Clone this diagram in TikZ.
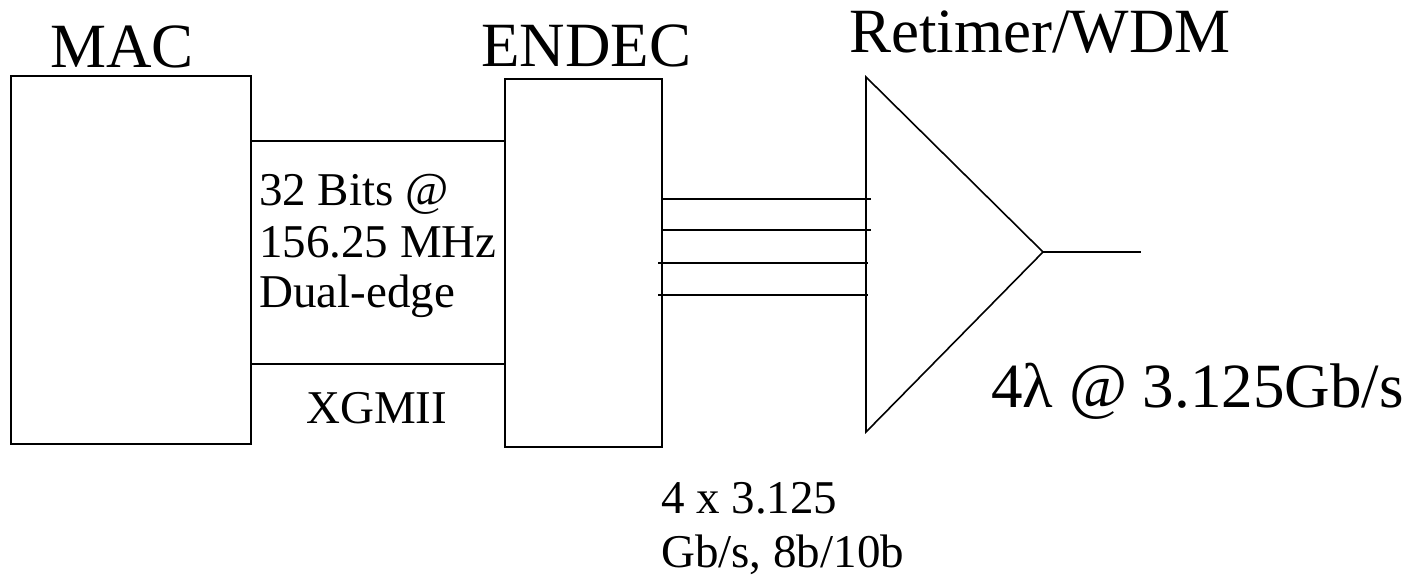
\documentclass[tikz,border=0pt]{standalone}
\usepackage{fontspec}
\setmainfont{Liberation Serif}
\tikzset{
  blk/.style={draw=black, line width=1.6pt, inner sep=0pt, outer sep=0pt},
  wire/.style={draw=black, line width=1.8pt},
  big/.style={font=\fontsize{63}{63}\selectfont, inner sep=0pt, anchor=base west},
  mid/.style={font=\fontsize{47}{52}\selectfont, inner sep=0pt, anchor=base west}
}
\begin{document}
\begin{tikzpicture}[x=1pt,y=-1pt]
\useasboundingbox (0,0) rectangle (1418,576);
% blocks
\node[blk, minimum width=240pt, minimum height=368pt] (mac) at (131,260) {};
\node[blk, minimum width=254pt, minimum height=223pt] (xgmii) at (378.5,252.5) {};
\node[blk, minimum width=157pt, minimum height=368pt] (endec) at (583.5,263) {};
% triangle
\coordinate (tt) at (866,77);
\coordinate (tb) at (866,432);
\coordinate (tip) at (1043,252);
\coordinate (out) at (1141,252);
\draw[blk, line join=miter] (tt) -- (tip) -- (tb) -- cycle;
% four lanes
\coordinate (a1) at (662,199); \coordinate (b1) at (871,199);
\coordinate (a2) at (662,230); \coordinate (b2) at (871,230);
\coordinate (a3) at (658,263); \coordinate (b3) at (868,263);
\coordinate (a4) at (658,295); \coordinate (b4) at (868,295);
\draw[wire] (a1) -- (b1);
\draw[wire] (a2) -- (b2);
\draw[wire] (a3) -- (b3);
\draw[wire] (a4) -- (b4);
\draw[wire] (tip) -- (out);
% labels
\node[big] (lmac) at (50,67) {MAC};
\node[big] (lendec) at (481,66) {ENDEC};
\node[big] (lret) at (849,52) {Retimer/WDM};
\node[mid] (l32a) at (259,205) {32 Bits @};
\node[mid] (l32b) at (259,257) {156.25 MHz};
\node[mid] (l32c) at (259,307) {Dual-edge};
\node[mid] (lxg) at (306,423) {XGMII};
\node[big] (llam) at (991,407) {4λ @ 3.125Gb/s};
\node[mid] (lb1) at (661,513) {4 x 3.125};
\node[mid] (lb2) at (661,567) {Gb/s, 8b/10b};
\end{tikzpicture}
\end{document}
